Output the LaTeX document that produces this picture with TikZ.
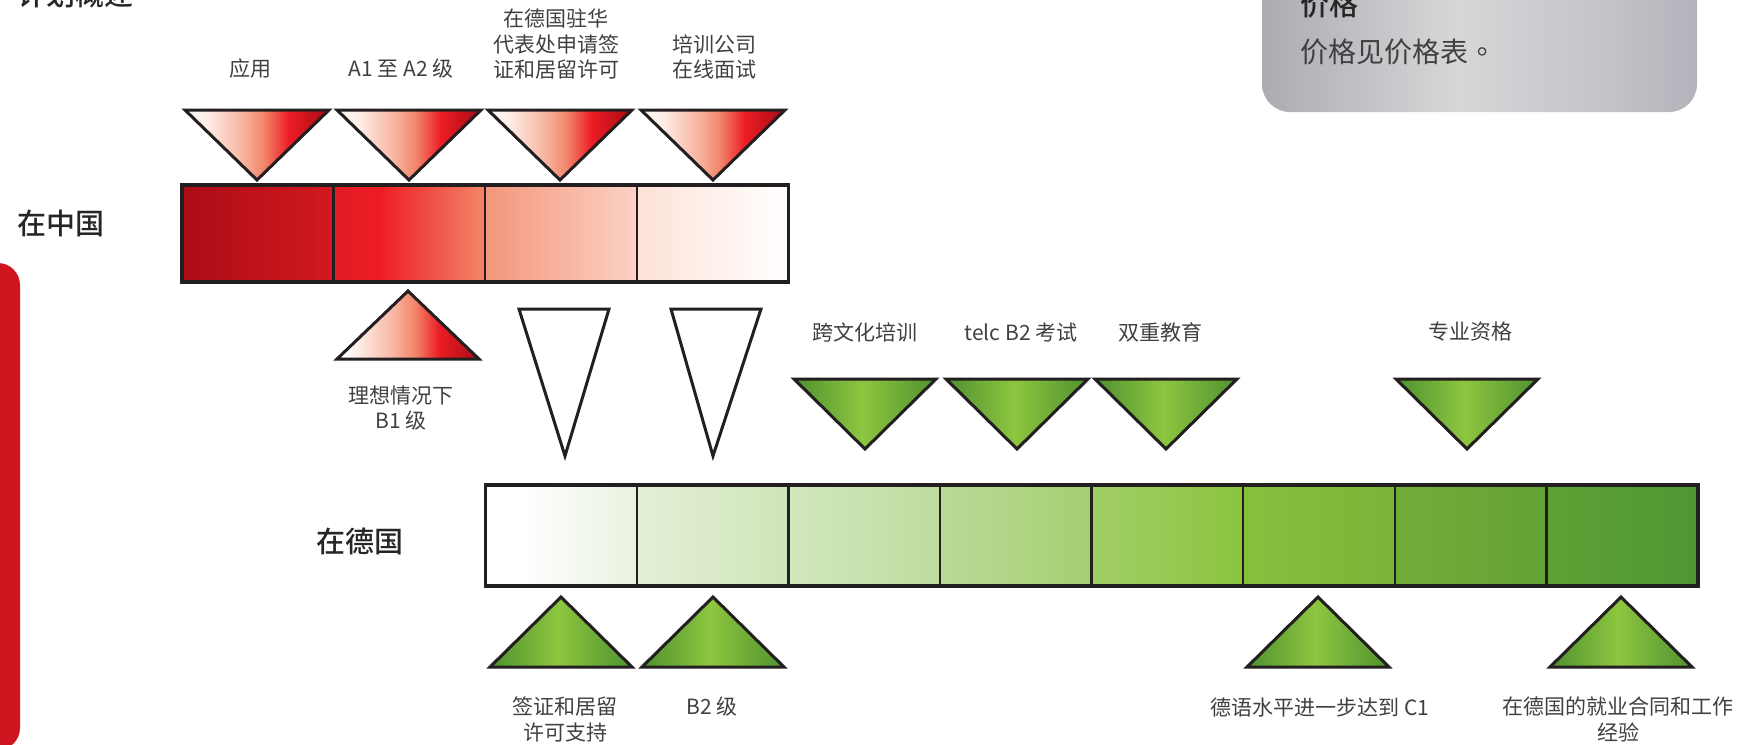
\documentclass[tikz,border=0pt]{standalone}
\usepackage{fontspec}
\setmainfont{Noto Sans CJK SC}
\IfFontExistsTF{Noto Sans CJK SC Medium}
  {\newfontfamily\medfont{Noto Sans CJK SC Medium}}
  {\newfontfamily\medfont{Noto Sans CJK SC}[FakeBold=1.2]}
\newfontfamily\tcfont{Noto Sans CJK TC}
\definecolor{linec}{HTML}{231F20}
\definecolor{labc}{HTML}{404040}
\definecolor{boldc}{HTML}{262626}
\definecolor{redbarc}{HTML}{CF1620}
% red triangle colours
\definecolor{rt1}{HTML}{FEEDE6}
\definecolor{rt2}{HTML}{F8B4A0}
\definecolor{rt3}{HTML}{F28468}
\definecolor{rt4}{HTML}{EC1C24}
\definecolor{rt5}{HTML}{A50B15}
% green triangle colours
\definecolor{gt1}{HTML}{4E9130}
\definecolor{gt2}{HTML}{8DC63F}
\definecolor{gt3}{HTML}{4F9230}
% grey box
\definecolor{gb1}{HTML}{ABACB1}
\definecolor{gb2}{HTML}{D7D7D9}
\definecolor{gb3}{HTML}{C6C6CB}
\definecolor{gb4}{HTML}{B3B3BB}
% china cells
\definecolor{c0a}{HTML}{AA0C16}\definecolor{c0b}{HTML}{D31920}
\definecolor{c1a}{HTML}{E21B24}\definecolor{c1b}{HTML}{ED1C24}\definecolor{c1c}{HTML}{F3876A}
\definecolor{c2a}{HTML}{F4967C}\definecolor{c2b}{HTML}{FBD2C4}
\definecolor{c3a}{HTML}{FDE2D8}\definecolor{c3b}{HTML}{FFFFFF}
% germany cells
\definecolor{g0b}{HTML}{E8F1DE}
\definecolor{g1a}{HTML}{E4EFD7}\definecolor{g1b}{HTML}{CFE5B8}
\definecolor{g2a}{HTML}{D3E8BE}\definecolor{g2b}{HTML}{BEDC9E}
\definecolor{g3a}{HTML}{B9DA98}\definecolor{g3b}{HTML}{A4CF70}
\definecolor{g4a}{HTML}{A1CE67}\definecolor{g4b}{HTML}{8CC43F}
\definecolor{g5a}{HTML}{85C03D}\definecolor{g5b}{HTML}{7AB53A}
\definecolor{g6a}{HTML}{72AD38}\definecolor{g6b}{HTML}{64A235}
\definecolor{g7a}{HTML}{5DA035}\definecolor{g7b}{HTML}{519632}
\pgfdeclarehorizontalshading{redtri}{100bp}{color(0bp)=(white); color(25bp)=(white); color(32.5bp)=(rt1); color(45bp)=(rt2); color(52.5bp)=(rt3); color(61bp)=(rt4); color(75bp)=(rt5); color(100bp)=(rt5)}
\pgfdeclarehorizontalshading{greentri}{100bp}{color(0bp)=(gt1); color(25bp)=(gt1); color(49bp)=(gt2); color(75bp)=(gt3); color(100bp)=(gt3)}
\pgfdeclarehorizontalshading{greybox}{100bp}{color(0bp)=(gb1); color(25bp)=(gb1); color(47.5bp)=(gb2); color(62.5bp)=(gb3); color(75bp)=(gb4); color(100bp)=(gb4)}
\pgfdeclarehorizontalshading{cnone}{100bp}{color(0bp)=(c1a); color(25bp)=(c1a); color(40bp)=(c1b); color(75bp)=(c1c); color(100bp)=(c1c)}
\pgfdeclarehorizontalshading{dezero}{100bp}{color(0bp)=(white); color(25bp)=(white); color(38bp)=(white); color(75bp)=(g0b); color(100bp)=(g0b)}
\tikzset{
  lab/.style={font=\fontsize{10.5}{12.75}\selectfont, text=labc, inner sep=0pt, align=center},
  boldlab/.style={font=\fontsize{14.5}{17}\selectfont\medfont, text=boldc, inner sep=0pt},
  pricelab/.style={font=\fontsize{14}{17}\selectfont, text=labc, inner sep=0pt},
  tri/.style={draw=linec, line width=1.5pt, line join=miter},
  cell/.style={draw=linec, line width=1.25pt},
  barframe/.style={draw=linec, line width=1.6pt}
}
\begin{document}
\begin{tikzpicture}[x=0.5pt,y=-0.5pt]
\useasboundingbox (0,0) rectangle (1737,745);
\clip (0,0) rectangle (1737,745);
% left red bar
\fill[redbarc, rounded corners=11pt] (-40,263) rectangle (20,750);
% grey price box
\shade[shading=greybox, rounded corners=14pt] (1262,-40) rectangle (1697,112);
\node[boldlab, anchor=west] (pricetitle) at (1300,5) {价格};
\node[pricelab, anchor=west] (pricetext) at (1300,52) {价格见价格表{\tcfont 。}};
% title and row labels
\node[boldlab, anchor=west] (title) at (17,-5) {计划概述};
\node[boldlab, anchor=west] (cn) at (17,223) {在中国};
\node[boldlab] (de) at (360,541) {在德国};
% China bar
\shade[left color=c0a, right color=c0b] (182,185) rectangle (333.6,282);
\shade[shading=cnone] (333.6,185) rectangle (485.2,282);
\shade[left color=c2a, right color=c2b] (485.2,185) rectangle (636.8,282);
\shade[left color=c3a, right color=c3b] (636.8,185) rectangle (788.4,282);
\foreach \xx in {333.6,485.2,636.8} \draw[cell] (\xx,185) -- (\xx,282);
\draw[barframe] (182,185) rectangle (788.4,282);
% Germany bar
\shade[shading=dezero] (485.2,485) rectangle (636.8,586);
\shade[left color=g1a, right color=g1b] (636.8,485) rectangle (788.4,586);
\shade[left color=g2a, right color=g2b] (788.4,485) rectangle (940,586);
\shade[left color=g3a, right color=g3b] (940,485) rectangle (1091.6,586);
\shade[left color=g4a, right color=g4b] (1091.6,485) rectangle (1243.2,586);
\shade[left color=g5a, right color=g5b] (1243.2,485) rectangle (1394.8,586);
\shade[left color=g6a, right color=g6b] (1394.8,485) rectangle (1546.4,586);
\shade[left color=g7a, right color=g7b] (1546.4,485) rectangle (1698,586);
\foreach \xx in {636.8,788.4,940,1091.6,1243.2,1394.8,1546.4} \draw[cell] (\xx,485) -- (\xx,586);
\draw[barframe] (485.2,485) rectangle (1698,586);
% red downward triangles above China bar
\foreach \cx in {257,409,560,713}
  \shade[shading=redtri, tri] (\cx-72,110) -- (\cx+72,110) -- (\cx,180) -- cycle;
% red upward triangle below China bar
\shade[shading=redtri, tri] (337,359) -- (479,359) -- (408,291) -- cycle;
% white tall triangles
\draw[tri, fill=white] (519,309) -- (609,309) -- (565,456) -- cycle;
\draw[tri, fill=white] (671,309) -- (761,309) -- (713,456) -- cycle;
% green downward triangles above Germany bar
\foreach \cx in {865,1017,1166,1467}
  \shade[shading=greentri, tri] (\cx-71,379) -- (\cx+71,379) -- (\cx,449) -- cycle;
% green upward triangles below Germany bar
\foreach \cx in {561,713,1318,1621}
  \shade[shading=greentri, tri] (\cx-71,667) -- (\cx+71,667) -- (\cx,597) -- cycle;
% labels
\node[lab] (lapp) at (250,69) {应用};
\node[lab] (la1) at (401,69) {A1 至 A2 级};
\node[lab] (lvisa) at (556,44) {在德国驻华\\代表处申请签\\证和居留许可};
\node[lab] (lint) at (714,57) {培训公司\\在线面试};
\node[lab] (lb1) at (401,408) {理想情况下\\B1 级};
\node[lab] (lic) at (865,332) {跨文化培训};
\node[lab] (ltelc) at (1021,332) {telc B2 考试};
\node[lab] (ldual) at (1160,332) {双重教育};
\node[lab] (lprof) at (1470,332) {专业资格};
\node[lab] (lvs) at (565,719.5) {签证和居留\\许可支持};
\node[lab] (lb2) at (712,707) {B2 级};
\node[lab] (lc1) at (1320,707) {德语水平进一步达到 C1};
\node[lab] (ljob) at (1618,719.5) {在德国的就业合同和工作\\经验};
\end{tikzpicture}
\end{document}
